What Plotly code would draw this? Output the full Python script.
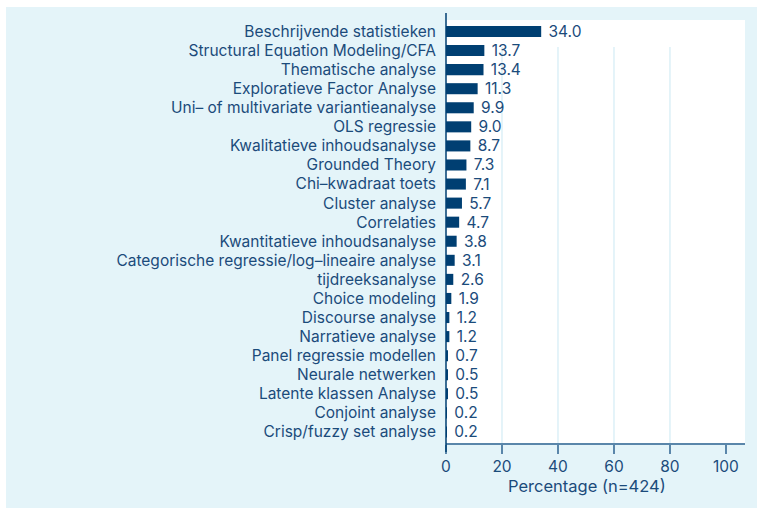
import plotly.graph_objects as go

# data, top to bottom as in the chart
methods = [
    "Beschrijvende statistieken",
    "Structural Equation Modeling/CFA",
    "Thematische analyse",
    "Exploratieve Factor Analyse",
    "Uni\u2013 of multivariate variantieanalyse",
    "OLS regressie",
    "Kwalitatieve inhoudsanalyse",
    "Grounded Theory",
    "Chi\u2013kwadraat toets",
    "Cluster analyse",
    "Correlaties",
    "Kwantitatieve inhoudsanalyse",
    "Categorische regressie/log\u2013lineaire analyse",
    "tijdreeksanalyse",
    "Choice modeling",
    "Discourse analyse",
    "Narratieve analyse",
    "Panel regressie modellen",
    "Neurale netwerken",
    "Latente klassen Analyse",
    "Conjoint analyse",
    "Crisp/fuzzy set analyse",
]
percentages = [34.0, 13.7, 13.4, 11.3, 9.9, 9.0, 8.7, 7.3, 7.1, 5.7, 4.7,
               3.8, 3.1, 2.6, 1.9, 1.2, 1.2, 0.7, 0.5, 0.5, 0.2, 0.2]
x_ticks = [0, 20, 40, 60, 80, 100]
grid_at = [20, 40, 60, 80]
x_title = "Percentage (n=424)"

navy = "#003f72"
text_col = "#1b4b7b"
panel = "#e4f4f9"
axis_col = "#5a86aa"
grid_col = "#dcf0f7"
font = "Inter, 'Open Sans', sans-serif"
fs = 15.5

fig = go.Figure()
fig.add_trace(go.Bar(
    x=percentages,
    y=methods,
    orientation="h",
    width=0.58,
    marker=dict(color=navy, line=dict(width=0)),
    texttemplate=" %{x:.1f}",
    textposition="outside",
    constraintext="none",
    textfont=dict(family=font, size=fs, color=text_col),
    cliponaxis=False,
    hoverinfo="x+y",
))

# light blue panel and white plotting area
shapes = [
    dict(type="rect", xref="paper", yref="paper", x0=-1.4716, x1=1.1,
         y0=-0.1512, y1=1.01395, fillcolor=panel, line=dict(width=0), layer="below"),
    dict(type="rect", xref="paper", yref="paper", x0=0, x1=1,
         y0=0, y1=0.9837, fillcolor="white", line=dict(width=0), layer="below"),
]
for g in grid_at:
    shapes.append(dict(type="line", xref="x", yref="paper", x0=g, x1=g,
                       y0=0, y1=0.921, line=dict(color=grid_col, width=1.5),
                       layer="below"))
# y axis line reaching down to the tick row
shapes.append(dict(type="line", xref="paper", yref="paper", x0=0, x1=0,
                   y0=-0.021, y1=1, line=dict(color=navy, width=1.5)))

fig.update_layout(
    width=757,
    height=509,
    margin=dict(l=446, r=12, t=13, b=66, autoexpand=False),
    paper_bgcolor="white",
    plot_bgcolor="rgba(0,0,0,0)",
    showlegend=False,
    shapes=shapes,
    font=dict(family=font, size=fs, color=text_col),
    xaxis=dict(
        range=[0, 106.8],
        tickvals=x_ticks,
        ticks="outside",
        ticklen=9,
        tickwidth=1.5,
        tickcolor=axis_col,
        showline=True,
        linecolor=axis_col,
        linewidth=1.5,
        showgrid=False,
        zeroline=False,
        automargin=False,
        tickfont=dict(family=font, size=fs, color=text_col),
    ),
    yaxis=dict(
        type="category",
        range=[21.58, -0.97],
        showgrid=False,
        zeroline=False,
        showline=False,
        ticks="",
        automargin=False,
        ticklabelstandoff=9,
        tickfont=dict(family=font, size=fs, color=text_col),
    ),
    annotations=[dict(
        text=x_title, xref="paper", yref="paper", x=0.4716, y=-0.100,
        xanchor="center", yanchor="middle", showarrow=False,
        font=dict(family=font, size=16.5, color=text_col),
    )],
)

# page body has a default 8px margin; remove it so the figure sits at 0,0
fig.write_html("out.html", config={"displayModeBar": False},
               post_script="document.body.style.margin = '0';")
